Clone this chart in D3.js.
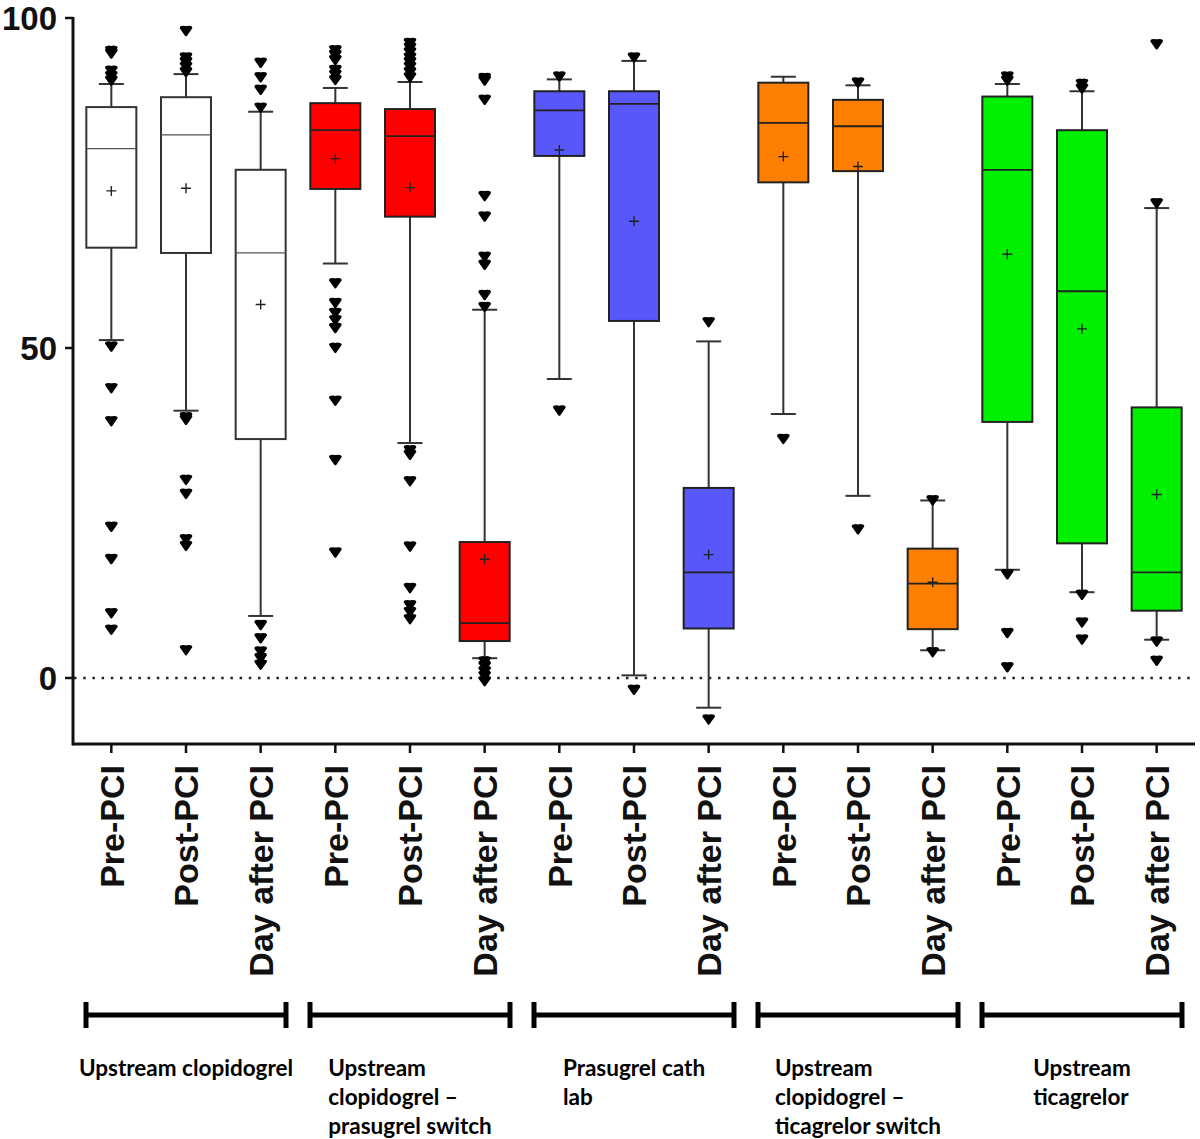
<!DOCTYPE html>
<html><head><meta charset="utf-8">
<script src="https://cdn.jsdelivr.net/npm/d3@7"></script>
<style>body{margin:0;background:#fff}</style>
</head><body>
<svg id="c" width="1200" height="1139"></svg>
<script>
const categories = ["Pre-PCI","Post-PCI","Day after PCI","Pre-PCI","Post-PCI","Day after PCI","Pre-PCI","Post-PCI","Day after PCI","Pre-PCI","Post-PCI","Day after PCI","Pre-PCI","Post-PCI","Day after PCI"];
const groupLines = [["Upstream clopidogrel"],["Upstream","clopidogrel –","prasugrel switch"],["Prasugrel cath","lab"],["Upstream","clopidogrel –","ticagrelor switch"],["Upstream","ticagrelor"]];
const groupColors = ["#ffffff","#ff0000","#5757fa","#ff8000","#00f000"];
const yTicks = [0, 50, 100];

const whiskerLow  = [51.2, 40.5, 9.4, 62.8, 35.6, 3.0, 45.3, 0.4, -4.5, 40.0, 27.6, 4.2, 16.4, 13.0, 5.8];
const q1          = [65.2, 64.4, 36.2, 74.1, 69.9, 5.6, 79.1, 54.1, 7.5, 75.1, 76.8, 7.4, 38.8, 20.4, 10.2];
const median      = [80.2, 82.3, 64.4, 83.0, 82.1, 8.3, 86.0, 87.0, 16.0, 84.1, 83.6, 14.3, 77.0, 58.6, 16.0];
const q3          = [86.5, 88.0, 77.0, 87.1, 86.2, 20.6, 88.9, 88.9, 28.8, 90.2, 87.6, 19.6, 88.1, 83.0, 41.0];
const whiskerHigh = [90.0, 91.5, 85.8, 89.4, 90.3, 55.8, 90.7, 93.5, 51.0, 91.1, 89.8, 26.9, 90.0, 88.9, 71.2];
const mean        = [73.8, 74.2, 56.6, 78.7, 74.3, 18.0, 80.0, 69.2, 18.7, 79.0, 77.5, 14.5, 64.2, 52.9, 27.8];
const outliers = [
  [95, 94.6, 92, 91.2, 90.5, 50.2, 43.9, 38.9, 22.9, 18, 9.8, 7.3],
  [98, 94, 93.3, 92.6, 91.8, 39.5, 39.1, 30, 27.9, 21, 20, 4.2],
  [93.2, 91, 89.1, 86.4, 8, 6, 4, 3, 2],
  [95.1, 94.4, 93.6, 92.1, 91.4, 90.6, 59.8, 56.8, 55.3, 54.2, 53, 50, 42, 33, 19],
  [96.2, 95.5, 94.8, 94, 93.3, 92.6, 91.8, 91, 34.5, 33.8, 29.8, 19.9, 13.6, 11, 10, 8.9],
  [90.9, 90.5, 87.6, 73, 69.9, 63.8, 62.6, 58, 56.2, 2.5, 1.8, 1, 0.3, -0.5],
  [91.1, 40.5],
  [94, -1.8],
  [53.9, -6.3],
  [36.2],
  [90.2, 22.5],
  [26.9, 3.9],
  [91.1, 90.5, 15.7, 6.8, 1.6],
  [90, 89.3, 12.6, 8.4, 5.8],
  [96, 71.9, 5.5, 2.6]
];

const svg = d3.select("#c");
const idx = categories.map((d,i)=>i);
const x = d3.scaleBand().domain(idx).range([74, 1194]).padding(0);
const y = d3.scaleLinear().domain([-10, 100]).range([744, 18]);
const cx = i => x(i) + x.bandwidth()/2;
const boxW = 50, capW = 25;
const colorOf = i => groupColors[Math.floor(i/3)];
const axisFont = "'Liberation Sans', Arimo, Arial, Helvetica, sans-serif";

// zero dotted line
svg.append("line").attr("x1", 74).attr("x2", 1194).attr("y1", y(0)).attr("y2", y(0))
  .attr("stroke", "#222").attr("stroke-width", 2.5).attr("stroke-dasharray", "2.5,6.7");

const g = svg.selectAll("g.box").data(idx).join("g").attr("class","box");
// whiskers
g.append("line").attr("x1", cx).attr("x2", cx).attr("y1", i=>y(q3[i])).attr("y2", i=>y(whiskerHigh[i]))
  .attr("stroke","#333").attr("stroke-width",2);
g.append("line").attr("x1", cx).attr("x2", cx).attr("y1", i=>y(q1[i])).attr("y2", i=>y(whiskerLow[i]))
  .attr("stroke","#333").attr("stroke-width",2);
g.append("line").attr("x1", i=>cx(i)-capW/2).attr("x2", i=>cx(i)+capW/2).attr("y1", i=>y(whiskerHigh[i])).attr("y2", i=>y(whiskerHigh[i]))
  .attr("stroke","#333").attr("stroke-width",2);
g.append("line").attr("x1", i=>cx(i)-capW/2).attr("x2", i=>cx(i)+capW/2).attr("y1", i=>y(whiskerLow[i])).attr("y2", i=>y(whiskerLow[i]))
  .attr("stroke","#333").attr("stroke-width",2);
// box
g.append("rect").attr("x", i=>cx(i)-boxW/2).attr("width", boxW)
  .attr("y", i=>y(q3[i])).attr("height", i=>y(q1[i])-y(q3[i]))
  .attr("fill", colorOf).attr("stroke", i=> i<3 ? "#333" : "#222").attr("stroke-width", 2);
// median
g.append("line").attr("x1", i=>cx(i)-boxW/2).attr("x2", i=>cx(i)+boxW/2).attr("y1", i=>y(median[i])).attr("y2", i=>y(median[i]))
  .attr("stroke", i=> i<3 ? "#555" : "#222").attr("stroke-width", i=> i<3 ? 1.3 : 1.8);
// mean plus
const pl = 5;
g.append("path").attr("d", i=>`M${cx(i)-pl},${y(mean[i])}H${cx(i)+pl}M${cx(i)},${y(mean[i])-pl}V${y(mean[i])+pl}`)
  .attr("stroke","#222").attr("stroke-width",1.4).attr("fill","none");
// outliers (inverted rounded triangles)
const tri = "M-5,-3.4C-5,-4.2 -1.5,-4.4 0,-3.4C1.5,-4.4 5,-4.2 5,-3.4L0,3.8Z";
g.each(function(i){
  d3.select(this).selectAll("path.o").data(outliers[i]).join("path").attr("class","o")
    .attr("d", tri).attr("transform", v=>`translate(${cx(i)},${y(v)})`)
    .attr("fill","#000").attr("stroke","#000").attr("stroke-width",2.6).attr("stroke-linejoin","round");
});

// y axis
svg.append("line").attr("x1",73).attr("x2",73).attr("y1",y(100)-1).attr("y2",y(-10)+1.2).attr("stroke","#111").attr("stroke-width",3);
svg.selectAll("line.yt").data(yTicks).join("line").attr("class","yt")
  .attr("x1",65).attr("x2",73).attr("y1",d=>y(d)).attr("y2",d=>y(d)).attr("stroke","#111").attr("stroke-width",2.5);
svg.selectAll("text.yl").data(yTicks).join("text").attr("class","yl")
  .attr("x",57).attr("y",d=>y(d)).attr("dy","0.36em").attr("text-anchor","end")
  .attr("font-family",axisFont).attr("font-weight","bold").attr("font-size",33)
  .attr("fill","#111").text(d=>d);

// x axis
svg.append("line").attr("x1",72).attr("x2",1195).attr("y1",y(-10)).attr("y2",y(-10)).attr("stroke","#111").attr("stroke-width",3);
svg.selectAll("line.xt").data(idx).join("line").attr("class","xt")
  .attr("x1",cx).attr("x2",cx).attr("y1",y(-10)).attr("y2",y(-10)+9).attr("stroke","#111").attr("stroke-width",2.5);
svg.selectAll("text.xl").data(idx).join("text").attr("class","xl")
  .attr("transform", i=>`translate(${cx(i)},765) rotate(-90)`).attr("dy","0.36em").attr("text-anchor","end")
  .attr("font-family",axisFont).attr("font-weight","bold").attr("font-size",34)
  .attr("fill","#111").text(i=>categories[i]);

// group brackets and labels
const inset = 12, by = 1015;
groupLines.forEach((lines, gi) => {
  const x0 = x(gi*3) + inset, x1 = x(gi*3+2) + x.bandwidth() - inset;
  const gb = svg.append("g");
  gb.append("line").attr("x1",x0).attr("x2",x1).attr("y1",by).attr("y2",by).attr("stroke","#000").attr("stroke-width",5);
  [x0, x1].forEach(xx => gb.append("line").attr("x1",xx).attr("x2",xx).attr("y1",by-13).attr("y2",by+13).attr("stroke","#000").attr("stroke-width",5));
  const t = gb.append("text").attr("font-family","Lato, 'Open Sans', sans-serif").attr("font-weight","bold").attr("font-size",22.5).attr("fill","#000");
  lines.forEach((ln, li) => t.append("tspan").attr("x",0).attr("y",1076 + li*29).text(ln));
  const w = d3.max(t.selectAll("tspan").nodes(), n => n.getComputedTextLength());
  t.attr("transform", `translate(${(x0+x1)/2 - w/2},0)`);
});
</script>
</body></html>
